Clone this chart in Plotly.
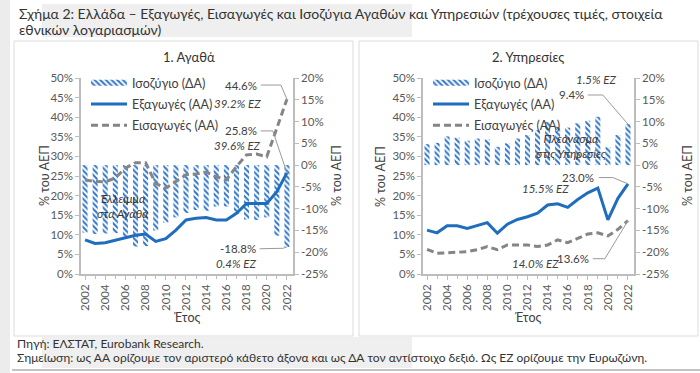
import plotly.graph_objects as go

years = list(range(2002, 2023))

# 1. Goods (% of GDP)
goods_exports = [8.7, 7.8, 8.0, 8.7, 9.3, 9.9, 10.2, 8.3, 9.0, 11.2, 13.8, 14.2, 14.4, 13.8, 13.8, 15.5, 18.0, 18.0, 18.0, 21.0, 25.8]
goods_imports = [24.0, 23.6, 23.5, 24.5, 27.0, 28.4, 28.4, 23.1, 21.9, 23.6, 25.3, 25.5, 26.0, 24.8, 24.0, 27.4, 30.4, 30.6, 29.9, 37.2, 44.6]
goods_balance = [-15.5, -15.8, -15.7, -15.6, -16.8, -18.7, -18.6, -15.0, -13.2, -12.0, -11.0, -10.3, -10.5, -9.5, -9.5, -11.2, -12.5, -12.6, -12.0, -16.2, -18.8]

# 2. Services (% of GDP)
serv_exports = [11.2, 10.5, 12.3, 12.3, 11.6, 12.4, 13.1, 10.4, 12.7, 13.9, 14.6, 15.5, 17.6, 17.9, 17.0, 19.0, 20.7, 21.9, 13.8, 19.3, 23.0]
serv_imports = [6.3, 5.3, 5.4, 5.5, 5.7, 6.2, 7.0, 6.2, 7.4, 7.4, 7.4, 7.0, 7.4, 8.7, 8.0, 9.1, 10.2, 10.5, 9.7, 11.4, 13.6]
serv_balance = [4.8, 5.1, 6.6, 6.3, 5.6, 6.1, 5.9, 4.2, 5.0, 6.1, 6.9, 8.0, 9.9, 8.8, 8.6, 9.6, 10.2, 11.1, 4.1, 6.9, 9.4]

left_ticks = [0, 5, 10, 15, 20, 25, 30, 35, 40, 45, 50]
left_labels = [f"{v}%" for v in left_ticks]
right_ticks = [-25, -20, -15, -10, -5, 0, 5, 10, 15, 20]
right_labels = [f"{v}%" for v in right_ticks]
year_ticks = years[::2]
year_labels = [str(y) for y in year_ticks]

names = ["Ισοζύγιο (ΔΑ)", "Εξαγωγές (ΑΑ)", "Εισαγωγές (ΑΑ)"]

BLUE = "#1f6dbd"
HATCH = "#2f76c9"
GREY = "#858585"
TXT = "#404040"
TICK = "#595959"
FONT = "Lato, 'Noto Sans', sans-serif"

fig = go.Figure()

def add_panel(xa, ybar, yline, bal, exp, imp, legend):
    pat = dict(shape="\\", size=4, solidity=0.5, fillmode="replace", bgcolor="white", fgcolor=HATCH)
    fig.add_trace(go.Bar(
        x=years, y=bal, xaxis=xa, yaxis=ybar, name=names[0], width=0.5,
        marker=dict(color=HATCH, line=dict(width=0), pattern=pat),
        showlegend=False, legendgroup="a" + legend))
    # legend entry for the hatched balance bars (wide hatched swatch)
    fig.add_trace(go.Scatter(
        x=[None], y=[None], xaxis=xa, yaxis=ybar, name=names[0], mode="none",
        fill="toself", fillcolor=HATCH, fillpattern=pat,
        legend=legend, legendgroup="a" + legend, hoverinfo="skip"))
    fig.add_trace(go.Scatter(
        x=years, y=exp, xaxis=xa, yaxis=yline, name=names[1], mode="lines",
        line=dict(color=BLUE, width=3), legend=legend, legendgroup="b" + legend))
    fig.add_trace(go.Scatter(
        x=years, y=imp, xaxis=xa, yaxis=yline, name=names[2], mode="lines",
        line=dict(color=GREY, width=3, dash="7px,4px"), legend=legend, legendgroup="c" + legend))

add_panel("x", "y", "y2", goods_balance, goods_exports, goods_imports, "legend")
add_panel("x2", "y3", "y4", serv_balance, serv_exports, serv_imports, "legend2")

ydom = [1 - 274 / 373, 1 - 78 / 373]
axis_common = dict(showgrid=False, zeroline=False, showline=True, linecolor="#bdbdbd", linewidth=1.5,
                   ticks="outside", ticklen=4, tickcolor="#bdbdbd", automargin=False,
                   tickfont=dict(size=11.5, color=TICK, family=FONT))

xcommon = dict(axis_common, range=[2001.6, 2022.6], tickvals=year_ticks, ticktext=year_labels, tickangle=-90,
               minor=dict(dtick=1, tick0=2002, ticks="outside", ticklen=3, tickcolor="#bdbdbd"))

legend_common = dict(xanchor="left", yanchor="top", bgcolor="rgba(0,0,0,0)",
                     font=dict(size=12.5, color=TXT, family=FONT), itemwidth=36, tracegroupgap=2, traceorder="grouped")

fig.update_layout(
    width=700, height=373, margin=dict(l=0, r=0, t=0, b=0, autoexpand=False),
    paper_bgcolor="white", plot_bgcolor="rgba(0,0,0,0)",
    font=dict(family=FONT, color=TXT),
    barmode="overlay",
    xaxis=dict(xcommon, domain=[81 / 700, 293 / 700], anchor="y2"),
    yaxis=dict(axis_common, domain=ydom, side="right", range=[-25, 20], tickvals=right_ticks, ticktext=right_labels, anchor="x"),
    yaxis2=dict(axis_common, overlaying="y", side="left", range=[0, 50], tickvals=left_ticks, ticktext=left_labels, anchor="x"),
    xaxis2=dict(xcommon, domain=[423 / 700, 634 / 700], anchor="y4"),
    yaxis3=dict(axis_common, domain=ydom, side="right", range=[-25, 20], tickvals=right_ticks, ticktext=right_labels, anchor="x2"),
    yaxis4=dict(axis_common, overlaying="y3", side="left", range=[0, 50], tickvals=left_ticks, ticktext=left_labels, anchor="x2"),
    legend=dict(legend_common, x=86 / 700, y=1 - 68 / 373),
    legend2=dict(legend_common, x=428 / 700, y=1 - 68 / 373),
    showlegend=True,
)

shapes = [
    dict(type="rect", xref="paper", yref="paper", x0=0, x1=10 / 700, y0=0, y1=1, fillcolor="#ececec", line=dict(width=0), layer="below"),
    dict(type="rect", xref="paper", yref="paper", x0=42 / 700, x1=412 / 700, y0=1 - 37 / 373, y1=1 - 4 / 373, fillcolor="#efefef", line=dict(width=0), layer="below"),
    dict(type="rect", xref="paper", yref="paper", x0=42 / 700, x1=412 / 700, y0=1 - 368 / 373, y1=1 - 337 / 373, fillcolor="#efefef", line=dict(width=0), layer="below"),
    dict(type="rect", xref="paper", yref="paper", x0=14 / 700, x1=353 / 700, y0=1 - 336 / 373, y1=1 - 41 / 373, line=dict(color="#dcdcdc", width=1), layer="below"),
    dict(type="rect", xref="paper", yref="paper", x0=359 / 700, x1=698 / 700, y0=1 - 336 / 373, y1=1 - 41 / 373, line=dict(color="#dcdcdc", width=1), layer="below"),
    dict(type="line", xref="paper", yref="paper", x0=12 / 700, x1=1, y0=1 - 370 / 373, y1=1 - 370 / 373, line=dict(color="#888", width=1)),
]

LC = dict(color="#9a9a9a", width=1)
last = years[-1]
shapes += [
    dict(type="path", xref="x", yref="y2", path=f"M 2019.4,48.2 L 2021.4,48.2 L {last},{goods_imports[-1]}", line=LC),
    dict(type="path", xref="x", yref="y2", path=f"M 2019.4,36.5 L 2020.6,36.5 L {last},{goods_exports[-1]}", line=LC),
    dict(type="path", xref="x", yref="y", path=f"M 2019.3,-19.2 L 2021.6,-19.1 L {last},{goods_balance[-1]}", line=LC),
    dict(type="path", xref="x2", yref="y3", path=f"M 2018.0,16.1 L 2019.5,16.1 L {last},{serv_balance[-1]}", line=LC),
    dict(type="path", xref="x2", yref="y4", path=f"M 2019.1,24.6 L 2020.5,24.6 L {last},{serv_exports[-1]}", line=LC),
    dict(type="path", xref="x2", yref="y4", path=f"M 2018.5,3.9 L 2019.7,3.9 L {last},{serv_imports[-1]}", line=LC),
]
fig.update_layout(shapes=shapes)

ann = []
def A(text, x, y, xref="paper", yref="paper", size=11.5, italic=False, xanchor="center", color=TXT, angle=0, align="center"):
    if italic:
        text = f"<i>{text}</i>"
    ann.append(dict(text=text, x=x, y=y, xref=xref, yref=yref, showarrow=False, xanchor=xanchor, yanchor="middle",
                    font=dict(size=size, color=color, family=FONT), textangle=angle, align=align))

A("Σχήμα 2: Ελλάδα – Εξαγωγές, Εισαγωγές και Ισοζύγια Αγαθών και Υπηρεσιών (τρέχουσες τιμές, στοιχεία",
  17 / 700, 1 - 13 / 373, size=14, xanchor="left", color="#333")
A("εθνικών λογαριασμών)", 17 / 700, 1 - 29 / 373, size=14, xanchor="left", color="#333")
A("1. Αγαθά", 189 / 700, 1 - 57 / 373, size=13, color="#333")
A("2. Υπηρεσίες", 528 / 700, 1 - 57 / 373, size=13, color="#333")
for xp in [44, 336, 380, 687]:
    A("% του ΑΕΠ", xp / 700, 1 - 176 / 373, size=12.5, angle=-90, color=TXT)
A("Έτος", 187 / 700, 1 - 317 / 373, size=12.5)
A("Έτος", 528 / 700, 1 - 317 / 373, size=12.5)
A("Πηγή: ΕΛΣΤΑΤ, Eurobank Research.", 15 / 700, 1 - 343 / 373, size=12, xanchor="left", color="#333")
A("Σημείωση: ως ΑΑ ορίζουμε τον αριστερό κάθετο άξονα και ως ΔΑ τον αντίστοιχο δεξιό. Ως ΕΖ ορίζουμε την Ευρωζώνη.",
  15 / 700, 1 - 357 / 373, size=12, xanchor="left", color="#333")

# goods labels
A(f"{goods_imports[-1]:.1f}%", 2019.2, 48.0, "x", "y2", xanchor="right")
A("39.2% EZ", 2019.6, 43.6, "x", "y2", italic=True, xanchor="right")
A(f"{goods_exports[-1]:.1f}%", 2019.2, 36.5, "x", "y2", xanchor="right")
A("39.6% EZ", 2019.6, 32.9, "x", "y2", italic=True, xanchor="right")
A(f"{goods_balance[-1]:.1f}%", 2019.1, -19.2, "x", "y", xanchor="right")
A("0.4% EZ", 2019.1, -22.5, "x", "y", italic=True, xanchor="right")
A("Έλλειμμα<br>στα Αγαθά", 2005.8, 17.3, "x", "y2", italic=True, color="#333")

# services labels
A("1.5% EZ", 2021.0, 49.5, "x2", "y4", italic=True, xanchor="right")
A(f"{serv_balance[-1]:.1f}%", 2017.8, 16.1, "x2", "y3", xanchor="right")
A("Πλεόνασμα<br>στις Υπηρεσίες", 2016.3, 32.6, "x2", "y4", italic=True, color="#333")
A(f"{serv_exports[-1]:.1f}%", 2018.8, 24.7, "x2", "y4", xanchor="right")
A("15.5% EZ", 2016.3, 21.7, "x2", "y4", italic=True, xanchor="right")
A("14.0% EZ", 2015.3, 2.8, "x2", "y4", italic=True, xanchor="right")
A(f"{serv_imports[-1]:.1f}%", 2018.3, 3.9, "x2", "y4", xanchor="right")

fig.update_layout(annotations=ann)
fig.write_html("out.html", config={"displayModeBar": False},
               post_script="document.body.style.margin='0';document.body.style.overflow='hidden';")
